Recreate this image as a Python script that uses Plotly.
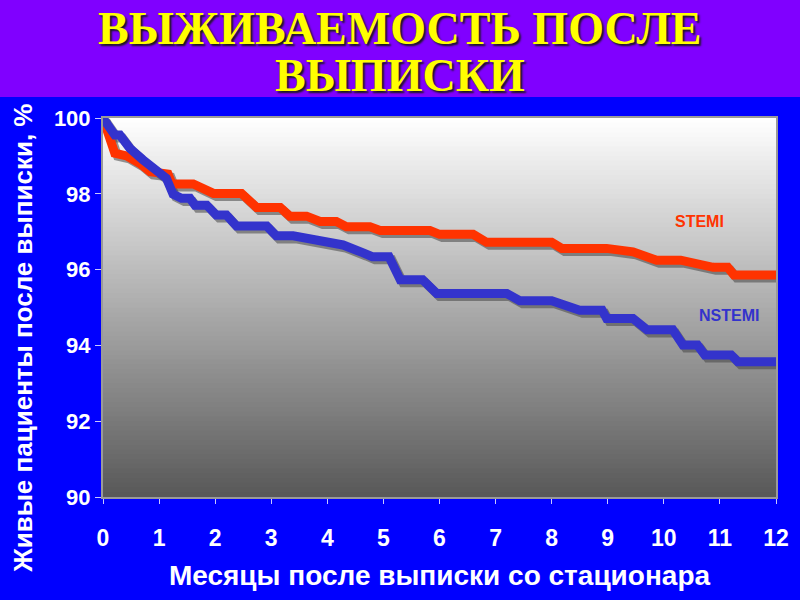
import numpy as np
import plotly.graph_objects as go

# Survival after discharge
stemi_months = [0, 0.21, 0.42, 0.66, 0.84, 1.04, 1.16, 1.23, 1.61, 1.97, 2.47, 2.74, 3.16,
                3.33, 3.63, 3.87, 4.16, 4.34, 4.76, 4.94, 5.83, 6.0, 6.6, 6.84, 8.0, 8.18,
                8.98, 9.45, 9.87, 10.3, 10.88, 11.14, 11.25, 12]
stemi_values = [100, 99.07, 99.0, 98.8, 98.58, 98.54, 98.52, 98.26, 98.26, 98.01, 98.01, 97.64, 97.64,
                97.41, 97.41, 97.27, 97.27, 97.13, 97.13, 97.03, 97.03, 96.93, 96.93, 96.72, 96.72, 96.56,
                96.56, 96.47, 96.25, 96.25, 96.06, 96.06, 95.86, 95.86]

nstemi_months = [0, 0.21, 0.3, 0.48, 0.71, 0.9, 1.05, 1.13, 1.25, 1.4, 1.55, 1.64, 1.85, 2.02,
                 2.2, 2.38, 2.92, 3.09, 3.39, 4.05, 4.28, 4.64, 4.8, 5.1, 5.3, 5.7, 5.95, 7.2,
                 7.43, 8.0, 8.5, 8.9, 8.98, 9.45, 9.7, 10.16, 10.34, 10.6, 10.73, 11.2, 11.32, 12]
nstemi_values = [100, 99.55, 99.55, 99.2, 98.9, 98.7, 98.5, 98.41, 97.99, 97.88, 97.88, 97.7, 97.7, 97.44,
                 97.44, 97.15, 97.15, 96.89, 96.89, 96.74, 96.65, 96.44, 96.34, 96.34, 95.73, 95.73, 95.37, 95.37,
                 95.18, 95.18, 94.93, 94.93, 94.71, 94.71, 94.41, 94.41, 94.01, 94.01, 93.75, 93.75, 93.57, 93.57]

x_ticks = list(range(0, 13))
y_ticks = [90, 92, 94, 96, 98, 100]

title_lines = ["ВЫЖИВАЕМОСТЬ ПОСЛЕ", "ВЫПИСКИ"]
x_title = "Месяцы после выписки со стационара"
y_title = "Живые пациенты после выписки, %"

RED = "#ff3300"
BLUE = "#3333cc"
SANS = "Liberation Sans Narrow, Arial Narrow, Liberation Sans, Arial, sans-serif"
SERIF = "Liberation Serif, Times New Roman, serif"

fig = go.Figure()

# soft drop shadow under each curve
for xs, ys in [(stemi_months, stemi_values), (nstemi_months, nstemi_values)]:
    fig.add_trace(go.Scatter(
        x=np.array(xs) + 0.05, y=np.array(ys) - 0.08, mode="lines",
        line=dict(color="rgba(70,70,70,0.55)", width=9),
        hoverinfo="skip", showlegend=False,
    ))

fig.add_trace(go.Scatter(x=stemi_months, y=stemi_values, mode="lines", name="STEMI",
                         line=dict(color=RED, width=9), showlegend=False))
fig.add_trace(go.Scatter(x=nstemi_months, y=nstemi_values, mode="lines", name="NSTEMI",
                         line=dict(color=BLUE, width=9), showlegend=False))

# vertical gradient for the plot area, white at top to dark gray at bottom
shapes = []
n = 80
for i in range(n):
    g = int(round(255 - (255 - 88) * (1 - (i + 0.5) / n)))
    shapes.append(dict(type="rect", xref="paper", yref="paper", x0=0, x1=1,
                       y0=i / n, y1=(i + 1) / n + 0.002, fillcolor=f"rgb({g},{g},{g})",
                       line=dict(width=0), layer="below"))
# purple title band
shapes.append(dict(type="rect", xref="paper", yref="paper", x0=-0.2, x1=1.1,
                   y0=1.0554, y1=1.4, fillcolor="#8000ff", line=dict(width=0), layer="below"))

title_font = dict(family=SERIF, size=46, color="#ffff00", shadow="2px 2px 2px #1a1a1a")
annotations = [
    dict(text=f"<b>{title_lines[0]}</b>", xref="paper", yref="paper", x=0.441, y=1.235,
         xanchor="center", yanchor="middle", showarrow=False, font=title_font),
    dict(text=f"<b>{title_lines[1]}</b>", xref="paper", yref="paper", x=0.441, y=1.111,
         xanchor="center", yanchor="middle", showarrow=False, font=title_font),
    dict(text=f"<b>{y_title}</b>", xref="paper", yref="paper", x=-0.12, y=0.418,
         xanchor="center", yanchor="middle", textangle=-90, showarrow=False,
         font=dict(family=SANS, size=26, color="white")),
    dict(text="<b>STEMI</b>", x=10.64, y=97.26, showarrow=False,
         font=dict(family=SANS, size=16, color=RED)),
    dict(text="<b>NSTEMI</b>", x=11.16, y=94.78, showarrow=False,
         font=dict(family=SANS, size=16, color=BLUE)),
]

fig.update_layout(
    width=800, height=600,
    margin=dict(l=103, r=24, t=118, b=103),
    paper_bgcolor="#0000ff",
    plot_bgcolor="rgba(0,0,0,0)",
    shapes=shapes,
    annotations=annotations,
    showlegend=False,
    xaxis=dict(
        range=[0, 12], tickvals=x_ticks, showgrid=False, zeroline=False,
        ticks="outside", ticklen=5, tickcolor="#c8c8ff", ticklabelstandoff=14,
        showline=True, linecolor="#9a9a9a", linewidth=2, mirror=True,
        tickfont=dict(family=SANS, size=23, color="white", weight="bold"),
        title=dict(text=f"<b>{x_title}</b>", standoff=16,
                   font=dict(family=SANS, size=28, color="white")),
    ),
    yaxis=dict(
        range=[90, 100], tickvals=y_ticks, showgrid=False, zeroline=False,
        ticks="outside", ticklen=6, tickcolor="#c8c8ff",
        showline=True, linecolor="#9a9a9a", linewidth=2, mirror=True,
        tickfont=dict(family=SANS, size=22, color="white", weight="bold"),
    ),
)

fig.write_html("out.html", config={"displayModeBar": False},
               post_script="document.body.style.margin = '0';")
